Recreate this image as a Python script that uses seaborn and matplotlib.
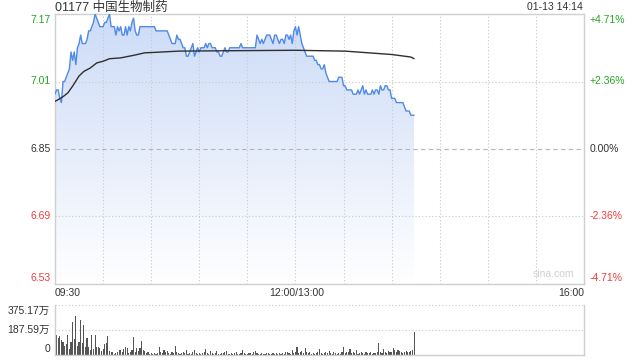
import numpy as np
import pandas as pd
import matplotlib
matplotlib.use("Agg")
import matplotlib.pyplot as plt
import seaborn as sns
from matplotlib.patches import Polygon

# ---------------- data ----------------
title = "01177 中国生物制药"
stamp = "01-13 14:14"
y_ticks = [7.17, 7.01, 6.85, 6.69, 6.53]
y_tick_labels = ["7.17", "7.01", "6.85", "6.69", "6.53"]
pct_labels = ["+4.71%", "+2.36%", "0.00%", "-2.36%", "-4.71%"]
time_labels = ["09:30", "12:00/13:00", "16:00"]
vol_tick_labels = ["375.17万", "187.59万", "0"]
vol_ticks = [375.17, 187.59, 0]

price = [
    6.98, 6.99, 6.99, 6.97, 6.96, 7.01, 7.01, 7.02, 7.03, 7.04,
    7.08, 7.06, 7.08, 7.05, 7.09, 7.10, 7.12, 7.10, 7.10, 7.10,
    7.11, 7.13, 7.13, 7.14, 7.15, 7.17, 7.16, 7.15, 7.14, 7.14,
    7.14, 7.15, 7.15, 7.16, 7.17, 7.14, 7.14, 7.14, 7.12, 7.14,
    7.13, 7.14, 7.12, 7.12, 7.14, 7.12, 7.14, 7.13, 7.15, 7.16,
    7.13, 7.12, 7.12, 7.14, 7.14, 7.14, 7.14, 7.14, 7.14, 7.14,
    7.14, 7.14, 7.14, 7.13, 7.13, 7.13, 7.13, 7.13, 7.13, 7.13,
    7.13, 7.12, 7.11, 7.10, 7.10, 7.10, 7.12, 7.11, 7.11, 7.10,
    7.09, 7.09, 7.07, 7.07, 7.08, 7.09, 7.10, 7.07, 7.08, 7.09,
    7.08, 7.09, 7.09, 7.09, 7.10, 7.09, 7.10, 7.10, 7.09, 7.09,
    7.09, 7.08, 7.08, 7.07, 7.07, 7.08, 7.09, 7.08, 7.08, 7.09,
    7.09, 7.09, 7.09, 7.09, 7.09, 7.09, 7.10, 7.09, 7.09, 7.09,
    7.09, 7.09, 7.09, 7.09, 7.09, 7.09, 7.12, 7.11, 7.10, 7.11,
    7.10, 7.11, 7.12, 7.12, 7.12, 7.11, 7.10, 7.12, 7.12, 7.11,
    7.10, 7.11, 7.11, 7.10, 7.12, 7.12, 7.11, 7.12, 7.10, 7.13,
    7.14, 7.12, 7.14, 7.12, 7.10, 7.09, 7.08, 7.07, 7.07, 7.07,
    7.07, 7.07, 7.06, 7.06, 7.05, 7.05, 7.04, 7.04, 7.05, 7.03,
    7.02, 7.01, 7.01, 7.01, 7.01, 7.01, 7.01, 7.02, 7.02, 7.02,
    7.00, 7.00, 6.99, 6.99, 6.99, 6.99, 6.98, 6.98, 6.98, 6.99,
    6.98, 6.99, 7.00, 6.98, 6.99, 6.98, 6.98, 6.98, 6.99, 6.98,
    6.99, 6.99, 6.98, 7.00, 6.99, 6.99, 7.00, 7.00, 6.99, 6.99,
    6.97, 6.97, 6.97, 6.96, 6.96, 6.96, 6.96, 6.96, 6.95, 6.94,
    6.94, 6.94, 6.93, 6.93, 6.93,
]

volume = [
    375, 150, 125, 145, 112, 100, 70, 80, 150, 45,
    100, 250, 120, 295, 70, 100, 262, 90, 225, 60,
    130, 60, 40, 150, 45, 150, 60, 62, 50, 30,
    45, 80, 90, 145, 30, 20, 25, 10, 12, 20,
    40, 35, 20, 45, 60, 55, 15, 25, 40, 137,
    20, 55, 30, 50, 105, 40, 30, 15, 20, 10,
    12, 8, 15, 10, 12, 60, 25, 15, 35, 20,
    30, 15, 8, 20, 12, 70, 25, 18, 10, 15,
    20, 12, 37, 10, 15, 8, 22, 35, 12, 10,
    18, 8, 15, 20, 42, 12, 10, 28, 15, 8,
    12, 30, 10, 8, 15, 12, 22, 30, 10, 8,
    15, 10, 12, 20, 8, 10, 15, 37, 12, 10,
    8, 15, 12, 10, 20, 30, 12, 8, 10, 15,
    10, 8, 12, 15, 10, 8, 12, 10, 15, 8,
    12, 10, 15, 8, 20, 25, 12, 10, 37, 15,
    20, 63, 15, 22, 30, 12, 55, 20, 15, 25,
    10, 12, 8, 15, 20, 45, 12, 10, 15, 22,
    12, 30, 15, 10, 20, 12, 8, 15, 10, 25,
    63, 15, 20, 25, 45, 12, 20, 15, 40, 10,
    15, 20, 12, 10, 25, 15, 12, 20, 10, 15,
    12, 20, 93, 25, 15, 45, 20, 12, 30, 20,
    25, 55, 35, 20, 40, 30, 25, 15, 20, 30,
    25, 20, 30, 35, 175,
]

avg_minutes = [0, 2, 5, 8, 11, 13, 15, 18, 22, 26, 30, 34, 41, 49, 56, 62,
               77, 110, 150, 181, 210, 220, 222, 224]
avg_price = [6.963, 6.967, 6.974, 6.983, 6.999, 7.011, 7.023, 7.034, 7.042,
             7.054, 7.058, 7.064, 7.066, 7.072, 7.078, 7.079, 7.082, 7.083,
             7.084, 7.082, 7.074, 7.069, 7.068, 7.064]

minutes = list(range(len(price)))
df = pd.DataFrame({"minute": minutes, "price": price, "vol": volume})
df_avg = pd.DataFrame({"minute": avg_minutes, "avg": avg_price})

# ---------------- style ----------------
sns.set_style("white")
plt.rcParams['font.family'] = ['Liberation Sans', 'Noto Sans CJK SC', 'DejaVu Sans']

W, H = 640, 360
fig = plt.figure(figsize=(6.4, 3.6), dpi=100)
ax = fig.add_axes([55 / W, 1 - 284 / H, 529 / W, 270 / H])
axv = fig.add_axes([55 / W, 1 - 355 / H, 529 / W, 50 / H])

GREEN = "#22a722"
RED = "#f03c3c"
DARK = "#333333"
GRID = "#c8c8c8"
SPINE = "#cfcfcf"

# gradient fill under price
grad = np.linspace(0, 1, 256)[:, None, None]
top = np.array([0.80, 0.86, 0.97])
bot = np.array([1.0, 1.0, 1.0])
img = top * (1 - grad) + bot * grad
img = np.repeat(img, 2, axis=1)
im = ax.imshow(img, extent=[0, minutes[-1], 6.53, 7.17], aspect='auto',
               origin='upper', zorder=1, interpolation='bilinear')
verts = [(0, 6.53)] + list(zip(minutes, price)) + [(minutes[-1], 6.53)]
poly = Polygon(verts, closed=True, facecolor='none', edgecolor='none')
ax.add_patch(poly)
im.set_clip_path(poly)

# grid
for m in range(30, 330, 30):
    ax.axvline(m, color=GRID, lw=0.8, ls=(0, (1, 2)), zorder=1.5)
for v in (7.01, 6.69):
    ax.axhline(v, color=GRID, lw=0.8, ls=(0, (1, 2)), zorder=1.5)
ax.axhline(6.85, color="#b5b5b5", lw=0.8, ls=(0, (4, 3)), zorder=1.5)

sns.lineplot(data=df, x="minute", y="price", ax=ax, color="#4f8ae8", lw=1.0,
             zorder=3, legend=False)
sns.lineplot(data=df_avg, x="minute", y="avg", ax=ax, color="#2f2f2f", lw=1.0,
             zorder=4, legend=False)

ax.set_xlim(0, 330)
ax.set_ylim(6.53, 7.17)
ax.set_xticks([])
ax.set_yticks([])
ax.set_xlabel("")
ax.set_ylabel("")
for s in ax.spines.values():
    s.set_color(SPINE)
    s.set_linewidth(1.0)

# y labels
offsets = [-6, 0, 0, 0, 6]
for v, lab, pl, dy in zip(y_ticks, y_tick_labels, pct_labels, offsets):
    col = GREEN if v > 6.85 else (RED if v < 6.85 else DARK)
    ax.annotate(lab, xy=(0, v), xycoords=('axes fraction', 'data'),
                xytext=(-4, dy), textcoords='offset pixels', ha='right',
                va='center', fontsize=7.5, color=col)
    ax.annotate(pl, xy=(1, v), xycoords=('axes fraction', 'data'),
                xytext=(6, dy), textcoords='offset pixels', ha='left',
                va='center', fontsize=7.5, color=col)

ax.text(574 / 529 * 1 - 55 / 529, 0.02, "sina.com", transform=ax.transAxes,
        ha='right', va='bottom', fontsize=7.5, color="#d0d0d0")

# time labels
fig.text(55 / W, 1 - 293.5 / H, time_labels[0], ha='left', va='center',
         fontsize=7.5, color=DARK)
fig.text(297 / W, 1 - 293.5 / H, time_labels[1], ha='center', va='center',
         fontsize=7.5, color=DARK)
fig.text(584 / W, 1 - 293.5 / H, time_labels[2], ha='right', va='center',
         fontsize=7.5, color=DARK)

# header
fig.text(55 / W, 1 - 7.5 / H, title, ha='left', va='center', fontsize=9,
         color=DARK)
fig.text(583 / W, 1 - 7.5 / H, stamp, ha='right', va='center', fontsize=7.5,
         color=DARK)

# volume panel
sns.barplot(data=df, x="minute", y="vol", ax=axv, native_scale=True,
            color="#555555", saturation=1, width=0.7, errorbar=None,
            linewidth=0)
axv.set_xlim(0, 330)
axv.set_ylim(0, 375.17)
axv.set_xticks([])
axv.set_yticks([])
axv.set_xlabel("")
axv.set_ylabel("")
axv.axhline(187.59, color=GRID, lw=0.8, ls=(0, (1, 2)), zorder=0.5)
axv.axhline(375.17, color=GRID, lw=0.8, ls=(0, (1, 2)), zorder=0.5,
            clip_on=False)
axv.spines['top'].set_visible(False)
for k in ('left', 'right', 'bottom'):
    axv.spines[k].set_color(SPINE)
    axv.spines[k].set_linewidth(1.0)

voffs = [-6, 0, 6]
for v, lab, dy in zip(vol_ticks, vol_tick_labels, voffs):
    axv.annotate(lab, xy=(0, v), xycoords=('axes fraction', 'data'),
                 xytext=(-5, dy), textcoords='offset pixels', ha='right',
                 va='center', fontsize=7.5, color=DARK)

fig.savefig("out.png", dpi=100)
